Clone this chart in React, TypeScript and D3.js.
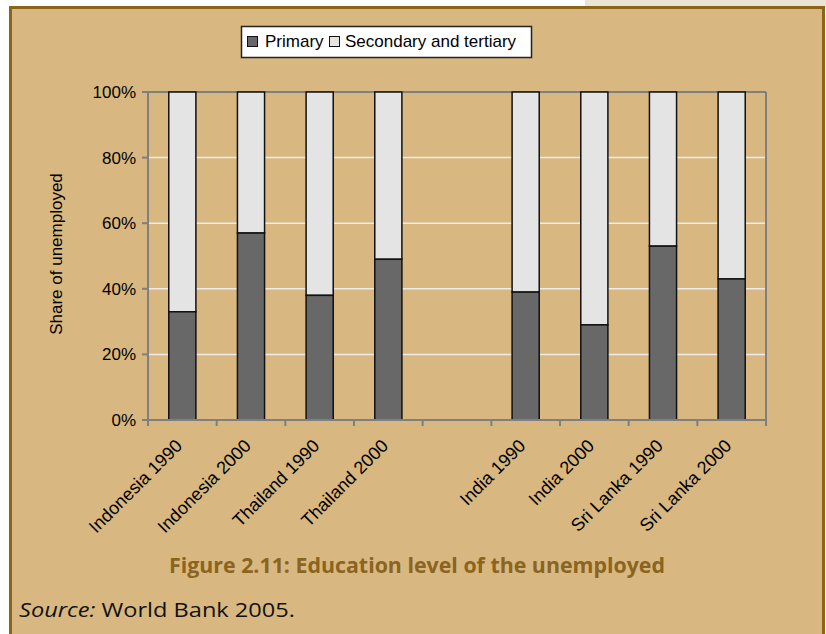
import React from "react";
import * as d3 from "d3";

const categories = [
  "Indonesia 1990",
  "Indonesia 2000",
  "Thailand 1990",
  "Thailand 2000",
  "India 1990",
  "India 2000",
  "Sri Lanka 1990",
  "Sri Lanka 2000",
];
const primary = [33, 57, 38, 49, 39, 29, 53, 43];
const gapAfter = 3; // an empty slot after Thailand 2000
const yTicks = [0, 20, 40, 60, 80, 100];
const seriesNames = ["Primary", "Secondary and tertiary"];

const W = 826;
const H = 634;
const PL = 148, PR = 766, PT = 92, PB = 420;
const TAN = "#d8b880";
const BROWN = "#8c6418";
const AXIS = "#7f7f7f";
const C_PRI = "#686868";
const C_SEC = "#e4e4e4";
const SANS = "'Liberation Sans', Arial, sans-serif";

export default function App() {
  const slots: string[] = [];
  categories.forEach((c, i) => {
    slots.push(c);
    if (i === gapAfter) slots.push("__gap__");
  });
  const x = d3.scaleBand<string>().domain(slots).range([PL, PR]).padding(0);
  const y = d3.scaleLinear().domain([0, 100]).range([PB, PT]);
  const bw = x.bandwidth() * 0.395;
  const boundaries = d3.range(slots.length + 1).map((i) => PL + i * x.bandwidth());

  return (
    <>
      <style>{"body{margin:0}"}</style>
      <svg width={W} height={H} style={{ display: "block" }}>
        <rect x={0} y={0} width={W} height={H} fill="#ffffff" />
        <rect x={585} y={0} width={W - 585} height={7} fill="#ebe3d4" />
        <rect x={9} y={6} width={816} height={H} fill={TAN} />
        <path d={`M10.5,${H} V7.5 H823.5 V${H}`} fill="none" stroke={BROWN} strokeWidth={3} />

        {/* gridlines */}
        {yTicks.filter((t) => t > 0 && t < 100).map((t) => (
          <line key={t} x1={PL} x2={PR} y1={y(t)} y2={y(t)} stroke="#ececec" strokeWidth={1.5} />
        ))}

        {/* plot border */}
        <line x1={PL} x2={PR} y1={PT} y2={PT} stroke={AXIS} strokeWidth={2} />
        <line x1={PR} x2={PR} y1={PT} y2={PB + 5} stroke={AXIS} strokeWidth={2} />

        {/* bars */}
        {categories.map((c, i) => {
          const bx = (x(c) as number) + (x.bandwidth() - bw) / 2;
          return (
            <g key={c}>
              <rect x={bx} y={y(100)} width={bw} height={y(primary[i]) - y(100)} fill={C_SEC} stroke="#111" strokeWidth={1.5} />
              <rect x={bx} y={y(primary[i])} width={bw} height={y(0) - y(primary[i])} fill={C_PRI} stroke="#111" strokeWidth={1.5} />
            </g>
          );
        })}

        {/* axes */}
        <line x1={PL} x2={PL} y1={PT} y2={PB} stroke={AXIS} strokeWidth={2} />
        <line x1={PL - 6} x2={PR} y1={PB} y2={PB} stroke={AXIS} strokeWidth={2} />
        {yTicks.map((t) => (
          <g key={t}>
            <line x1={PL - 6} x2={PL} y1={y(t)} y2={y(t)} stroke={AXIS} strokeWidth={2} />
            <text x={136} y={y(t) + 6} textAnchor="end" fontFamily={SANS} fontSize={17} fill="#000">
              {t}%
            </text>
          </g>
        ))}
        {boundaries.map((bx, i) => (
          <line key={i} x1={bx} x2={bx} y1={PB} y2={PB + 6} stroke={AXIS} strokeWidth={2} />
        ))}
        {categories.map((c) => {
          const cx = (x(c) as number) + x.bandwidth() / 2;
          return (
            <text
              key={c}
              transform={`translate(${cx + 1},${PB + 27}) rotate(-45)`}
              textAnchor="end"
              fontFamily={SANS}
              fontSize={18}
              fill="#000"
            >
              {c}
            </text>
          );
        })}

        <text
          transform={`translate(62,${254}) rotate(-90)`}
          textAnchor="middle"
          fontFamily={SANS}
          fontSize={17}
          fill="#000"
        >
          Share of unemployed
        </text>

        {/* legend */}
        <rect x={241.5} y={26.5} width={290} height={31} fill="#ffffff" stroke="#222" strokeWidth={1.5} />
        <rect x={247.5} y={36.5} width={10} height={10} fill={C_PRI} stroke="#111" strokeWidth={1} />
        <text x={265} y={47} fontFamily={SANS} fontSize={17} fill="#000">{seriesNames[0]}</text>
        <rect x={329.5} y={36.5} width={10} height={10} fill={C_SEC} stroke="#111" strokeWidth={1} />
        <text x={345} y={47} fontFamily={SANS} fontSize={17} fill="#000">{seriesNames[1]}</text>

        {/* title */}
        <text
          x={169}
          y={573}
          fontFamily="'Open Sans', 'Noto Sans', sans-serif"
          fontWeight="bold"
          fontSize={22}
          fill="#8a6420"
          textLength={496}
          lengthAdjust="spacingAndGlyphs"
        >
          Figure 2.11: Education level of the unemployed
        </text>
        <text
          x={19}
          y={617}
          fontFamily="'Open Sans', 'Noto Sans', sans-serif"
          fontSize={20}
          fill="#111"
          textLength={276}
          lengthAdjust="spacingAndGlyphs"
        >
          <tspan fontStyle="italic">Source:</tspan> World Bank 2005.
        </text>
      </svg>
    </>
  );
}
